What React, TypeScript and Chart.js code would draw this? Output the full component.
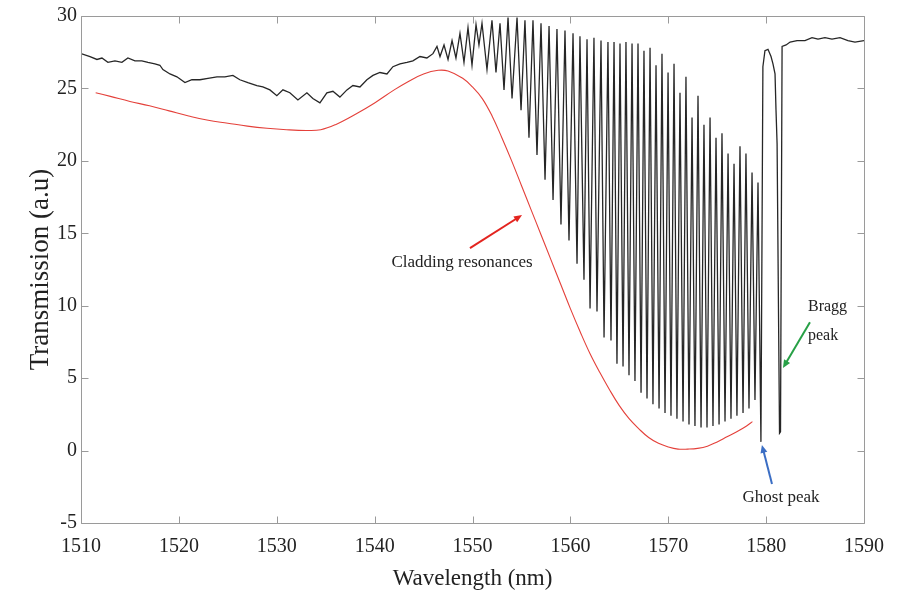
import React, { useEffect, useRef } from "react";
import { Chart, registerables } from "chart.js";

Chart.register(...registerables);

// Measured transmission spectrum (black trace)
const spectrumWavelength = [
  1510.0, 1510.92, 1511.63, 1512.14, 1512.75, 1513.47, 1514.18, 1514.79, 1515.51, 1516.22,
  1516.84, 1517.55, 1518.06, 1518.37, 1519.09, 1519.8, 1520.62, 1521.33, 1522.15, 1522.97,
  1523.89, 1524.7, 1525.52, 1526.23, 1527.05, 1527.97, 1528.58, 1529.3, 1530.01, 1530.63,
  1531.34, 1532.16, 1533.08, 1533.69, 1534.41, 1535.12, 1535.74, 1536.45, 1537.17, 1537.78,
  1538.5, 1539.21, 1539.83, 1540.54, 1541.26, 1541.87, 1542.59, 1543.3, 1543.91, 1544.63,
  1545.34, 1545.96, 1546.37, 1546.68, 1547.09, 1547.5, 1547.91, 1548.31, 1548.72, 1549.13,
  1549.54, 1549.95, 1550.36, 1550.66, 1550.97, 1551.48, 1551.99, 1552.4, 1552.81, 1553.22,
  1553.63, 1554.04, 1554.55, 1554.96, 1555.36, 1555.77, 1556.18, 1556.59, 1557.0, 1557.41,
  1557.82, 1558.23, 1558.63, 1559.04, 1559.45, 1559.86, 1560.27, 1560.68, 1560.98, 1561.39,
  1561.7, 1562.01, 1562.41, 1562.72, 1563.13, 1563.44, 1563.84, 1564.15, 1564.46, 1564.76,
  1565.07, 1565.38, 1565.68, 1565.99, 1566.3, 1566.6, 1566.91, 1567.22, 1567.52, 1567.83,
  1568.14, 1568.44, 1568.75, 1569.06, 1569.36, 1569.67, 1569.98, 1570.28, 1570.59, 1570.89,
  1571.2, 1571.51, 1571.81, 1572.12, 1572.43, 1572.73, 1573.04, 1573.35, 1573.65, 1573.96,
  1574.27, 1574.57, 1574.88, 1575.19, 1575.49, 1575.8, 1576.11, 1576.41, 1576.72, 1577.02,
  1577.33, 1577.64, 1577.94, 1578.25, 1578.56, 1578.86, 1579.17, 1579.47, 1579.67, 1579.88,
  1580.19, 1580.5, 1580.7, 1580.91, 1581.01, 1581.12, 1581.37, 1581.47, 1581.63, 1582.04,
  1582.45, 1583.16, 1583.97, 1584.69, 1585.3, 1586.01, 1586.73, 1587.55, 1588.36, 1589.08,
  1590.0,
];
const spectrumTransmission = [
  27.4, 27.2, 27.0, 27.1, 26.8, 26.9, 26.8, 27.1, 26.9, 26.9,
  26.8, 26.7, 26.6, 26.3, 26.0, 25.8, 25.4, 25.6, 25.6, 25.7,
  25.8, 25.8, 25.9, 25.6, 25.4, 25.2, 25.1, 24.9, 24.5, 24.9,
  24.7, 24.2, 24.7, 24.3, 24.0, 24.7, 24.8, 24.4, 24.9, 25.2,
  25.1, 25.6, 25.9, 26.1, 26.0, 26.5, 26.7, 26.8, 26.9, 27.2,
  27.1, 27.4, 27.9, 27.2, 28.0, 27.0, 28.3, 27.1, 28.8, 26.8,
  29.2, 26.6, 29.4, 28.0, 29.5, 26.3, 29.7, 26.1, 29.5, 24.9,
  29.9, 24.3, 29.9, 23.5, 29.7, 21.6, 29.7, 20.4, 29.5, 18.7,
  29.3, 17.3, 29.1, 15.6, 29.0, 14.5, 28.8, 12.9, 28.6, 11.8,
  28.4, 9.8, 28.5, 9.6, 28.3, 7.8, 28.2, 7.6, 28.2, 6.0,
  28.1, 5.8, 28.2, 5.2, 28.1, 4.8, 28.1, 4.0, 27.6, 3.6,
  27.8, 3.2, 26.6, 2.9, 27.4, 2.6, 26.1, 2.4, 26.7, 2.2,
  24.7, 2.0, 25.8, 1.8, 23.0, 1.7, 24.5, 1.6, 22.5, 1.6,
  23.0, 1.7, 21.6, 1.8, 21.9, 2.0, 20.5, 2.2, 19.8, 2.4,
  21.0, 2.6, 20.5, 2.9, 19.2, 3.5, 18.5, 0.6, 26.5, 27.6,
  27.7, 27.2, 26.7, 26.0, 23.5, 21.2, 1.2, 1.3, 27.9, 28.0,
  28.2, 28.3, 28.3, 28.5, 28.4, 28.5, 28.4, 28.5, 28.3, 28.2,
  28.3,
];

// Lower envelope (red trace)
const envelopeWavelength = [
  1511.5, 1513, 1515, 1517, 1519, 1521, 1523, 1525, 1527, 1529,
  1531, 1533, 1534.5, 1536, 1538, 1540, 1542, 1543.5, 1545, 1546.5,
  1547.5, 1549, 1550, 1551, 1552, 1553, 1554, 1555, 1556, 1557,
  1558, 1559, 1560, 1561, 1562, 1563, 1564, 1565, 1566, 1567,
  1568, 1569, 1570, 1571, 1572, 1573, 1574, 1575, 1576, 1577,
  1578, 1578.6,
];
const envelopeTransmission = [
  24.7, 24.45, 24.1, 23.8, 23.45, 23.1, 22.8, 22.6, 22.4, 22.25,
  22.15, 22.1, 22.15, 22.5, 23.2, 24.0, 24.9, 25.5, 26.0, 26.25,
  26.2, 25.7, 25.1, 24.3, 23.1, 21.6, 20.0, 18.3, 16.6, 14.9,
  13.2, 11.5, 9.8, 8.2, 6.7, 5.4, 4.2, 3.1, 2.2, 1.5,
  0.9, 0.5, 0.25, 0.1, 0.1, 0.15, 0.3, 0.6, 0.95, 1.3,
  1.7, 2.0,
];

const xTickValues = [1510, 1520, 1530, 1540, 1550, 1560, 1570, 1580, 1590];
const yTickValues = [-5, 0, 5, 10, 15, 20, 25, 30];

const xTitle = "Wavelength (nm)";
const yTitle = "Transmission (a.u)";

// Annotation anchors in data units [wavelength, transmission]
const claddingLabel = { text: "Cladding resonances", at: [1548.93, 13.0] };
const claddingArrow = { from: [1549.74, 13.97], to: [1555.06, 16.26] };
const braggLabel = { lines: ["Bragg", "peak"], at: [1584.28, 9.9], lineStep: 2.0 };
const braggArrow = { from: [1584.48, 8.86], to: [1581.72, 5.7] };
const ghostLabel = { text: "Ghost peak", at: [1581.52, -3.27] };
const ghostArrow = { from: [1580.6, -2.3], to: [1579.57, 0.39] };

const SERIF = "'Liberation Serif', 'Times New Roman', serif";

function drawArrow(ctx: CanvasRenderingContext2D, x1: number, y1: number, x2: number, y2: number, color: string) {
  const ang = Math.atan2(y2 - y1, x2 - x1);
  const head = 8;
  const hw = 3.5;
  ctx.save();
  ctx.strokeStyle = color;
  ctx.fillStyle = color;
  ctx.lineWidth = 2;
  ctx.beginPath();
  ctx.moveTo(x1, y1);
  ctx.lineTo(x2 - Math.cos(ang) * head * 0.8, y2 - Math.sin(ang) * head * 0.8);
  ctx.stroke();
  ctx.beginPath();
  ctx.moveTo(x2, y2);
  ctx.lineTo(x2 - Math.cos(ang) * head - Math.sin(ang) * hw, y2 - Math.sin(ang) * head + Math.cos(ang) * hw);
  ctx.lineTo(x2 - Math.cos(ang) * head + Math.sin(ang) * hw, y2 - Math.sin(ang) * head - Math.cos(ang) * hw);
  ctx.closePath();
  ctx.fill();
  ctx.restore();
}

const framePlugin = {
  id: "frameTicks",
  afterDatasetsDraw(chart: any) {
    const { ctx, chartArea: a, scales } = chart;
    const sx = scales.x;
    const sy = scales.y;
    ctx.save();
    ctx.strokeStyle = "#9a9a9a";
    ctx.lineWidth = 1;
    const L = Math.round(a.left) + 0.5;
    const R = Math.round(a.right) + 0.5;
    const T = Math.round(a.top) + 0.5;
    const B = Math.round(a.bottom) + 0.5;
    ctx.beginPath();
    ctx.rect(L, T, R - L, B - T);
    ctx.stroke();
    const len = 7;
    ctx.beginPath();
    xTickValues.forEach((v) => {
      const px = Math.round(sx.getPixelForValue(v)) + 0.5;
      ctx.moveTo(px, B);
      ctx.lineTo(px, B - len);
      ctx.moveTo(px, T);
      ctx.lineTo(px, T + len);
    });
    yTickValues.forEach((v) => {
      const py = Math.round(sy.getPixelForValue(v)) + 0.5;
      ctx.moveTo(L, py);
      ctx.lineTo(L + len, py);
      ctx.moveTo(R, py);
      ctx.lineTo(R - len, py);
    });
    ctx.stroke();
    ctx.restore();
  },
};

const annotationPlugin = {
  id: "annotations",
  afterDraw(chart: any) {
    const { ctx, scales } = chart;
    const px = (v: number) => scales.x.getPixelForValue(v);
    const py = (v: number) => scales.y.getPixelForValue(v);
    ctx.save();
    ctx.fillStyle = "#222";
    ctx.textBaseline = "middle";

    ctx.font = `17px ${SERIF}`;
    ctx.textAlign = "center";
    ctx.fillText(claddingLabel.text, px(claddingLabel.at[0]), py(claddingLabel.at[1]));
    ctx.fillText(ghostLabel.text, px(ghostLabel.at[0]), py(ghostLabel.at[1]));

    ctx.font = `16px ${SERIF}`;
    ctx.textAlign = "left";
    braggLabel.lines.forEach((t, i) => {
      ctx.fillText(t, px(braggLabel.at[0]), py(braggLabel.at[1] - i * braggLabel.lineStep));
    });
    ctx.restore();

    drawArrow(ctx, px(claddingArrow.from[0]), py(claddingArrow.from[1]), px(claddingArrow.to[0]), py(claddingArrow.to[1]), "#e3241f");
    drawArrow(ctx, px(braggArrow.from[0]), py(braggArrow.from[1]), px(braggArrow.to[0]), py(braggArrow.to[1]), "#27a046");
    drawArrow(ctx, px(ghostArrow.from[0]), py(ghostArrow.from[1]), px(ghostArrow.to[0]), py(ghostArrow.to[1]), "#3b6ec4");
  },
};

export default function App() {
  const canvasRef = useRef<HTMLCanvasElement | null>(null);

  useEffect(() => {
    document.body.style.margin = "0";
    const canvas = canvasRef.current;
    if (!canvas) return;

    const spectrum = spectrumWavelength.map((x, i) => ({ x, y: spectrumTransmission[i] }));
    const envelope = envelopeWavelength.map((x, i) => ({ x, y: envelopeTransmission[i] }));

    const chart = new Chart(canvas, {
      type: "line",
      data: {
        datasets: [
          {
            label: "Spectrum",
            data: spectrum,
            borderColor: "#262626",
            borderWidth: 1.3,
            pointRadius: 0,
            tension: 0,
            fill: false,
          },
          {
            label: "Envelope",
            data: envelope,
            borderColor: "#e4403a",
            borderWidth: 1.1,
            pointRadius: 0,
            tension: 0.4,
            fill: false,
          },
        ],
      },
      options: {
        animation: false,
        responsive: true,
        maintainAspectRatio: false,
        layout: { padding: { left: 0, right: 43, top: 16, bottom: 0 } },
        plugins: {
          legend: { display: false },
          tooltip: { enabled: false },
        },
        scales: {
          x: {
            type: "linear",
            min: 1510,
            max: 1590,
            grid: { display: false, drawTicks: false },
            border: { display: false },
            afterFit: (scale: any) => {
              scale.height = 71;
            },
            ticks: {
              stepSize: 10,
              padding: 12,
              color: "#222",
              font: { family: SERIF, size: 20 },
              callback: (v: any) => String(v),
            },
            title: {
              display: true,
              text: xTitle,
              color: "#222",
              font: { family: SERIF, size: 23 },
              padding: { top: 0, bottom: 1 },
            },
          },
          y: {
            type: "linear",
            min: -5,
            max: 30,
            grid: { display: false, drawTicks: false },
            border: { display: false },
            afterFit: (scale: any) => {
              scale.width = 81;
            },
            ticks: {
              stepSize: 5,
              padding: 4,
              color: "#222",
              font: { family: SERIF, size: 20 },
              callback: (v: any) => String(v),
            },
            title: {
              display: true,
              text: yTitle,
              color: "#222",
              font: { family: SERIF, size: 27 },
              padding: { top: 25, bottom: 0 },
            },
          },
        },
      },
      plugins: [framePlugin, annotationPlugin],
    });

    return () => {
      chart.destroy();
    };
  }, []);

  return (
    <div style={{ width: "907px", height: "594px", position: "relative" }}>
      <canvas ref={canvasRef} />
    </div>
  );
}
